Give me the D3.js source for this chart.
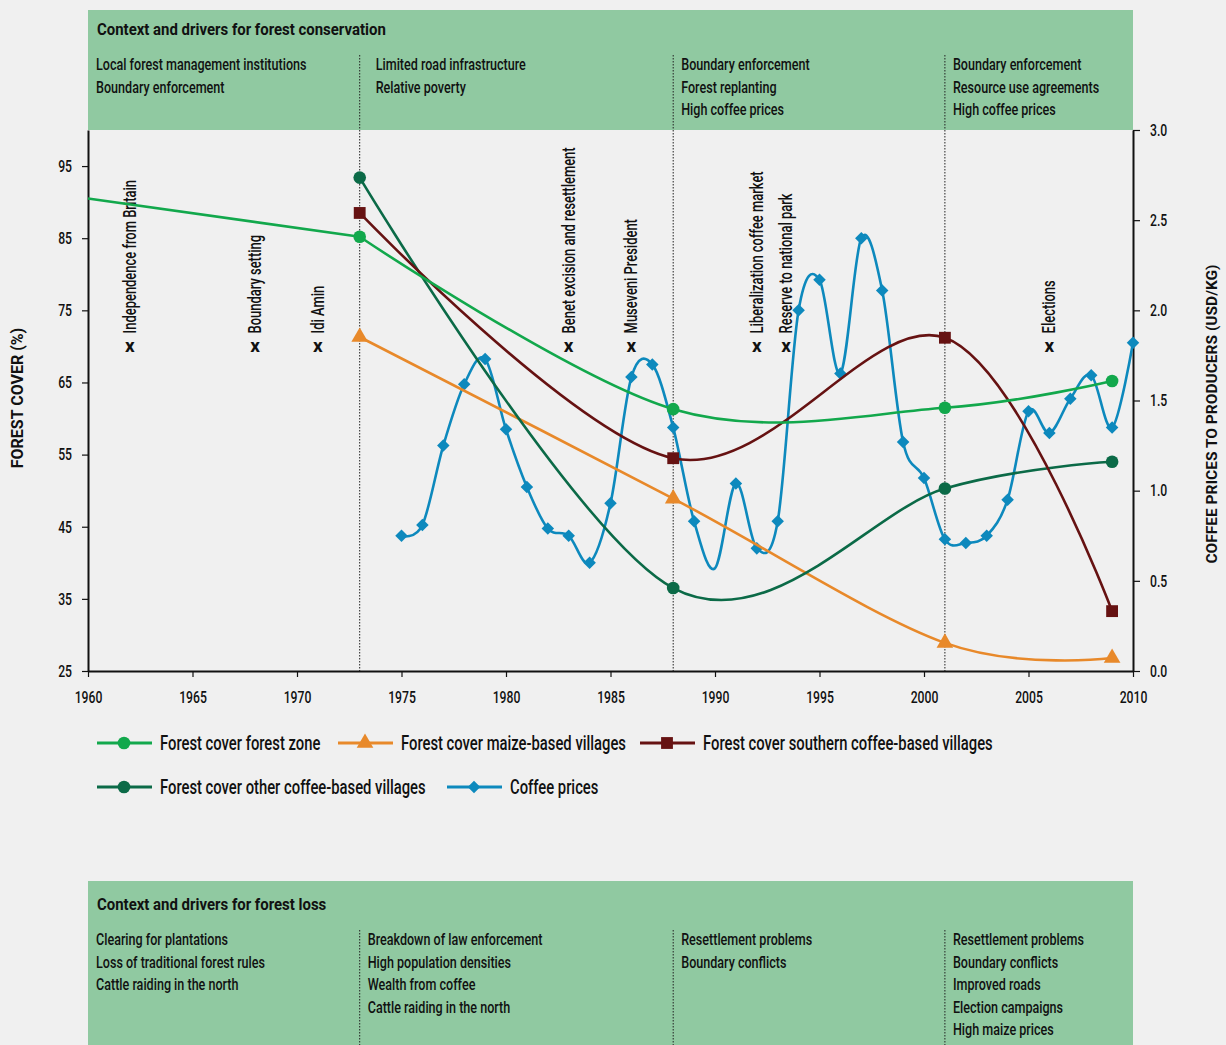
<!DOCTYPE html>
<html>
<head>
<meta charset="utf-8">
<script src="https://cdn.jsdelivr.net/npm/d3@7"></script>
<style>
  html, body { margin: 0; padding: 0; background: #f0f0f0; }
  svg { display: block; font-family: Roboto, "Noto Sans", sans-serif; }
</style>
</head>
<body>
<svg id="chart" width="1226" height="1045"></svg>
<script>
// ---- Data ----
const yearTicks = [1960, 1965, 1970, 1975, 1980, 1985, 1990, 1995, 2000, 2005, 2010];
const coverTicks = [25, 35, 45, 55, 65, 75, 85, 95];
const priceTicks = [0, 0.5, 1, 1.5, 2, 2.5, 3];

// forest cover (%) by survey year
const surveyYears = [1973, 1988, 2001, 2009];
const forestZone = [85.2, 61.3, 61.5, 65.2];
const maizeVillages = [71.3, 48.9, 28.9, 26.8];
const southernCoffeeVillages = [88.5, 54.5, 71.2, 33.3];
const otherCoffeeVillages = [93.4, 36.5, 50.3, 54.0];
// earlier estimate for the forest zone (no survey marker)
const forestZoneHistoricYears = [1960, 1973];
const forestZoneHistoric = [90.5, 85.2];

// coffee prices to producers (USD/kg)
const coffeeYears = [1975, 1976, 1977, 1978, 1979, 1980, 1981, 1982, 1983, 1984, 1985, 1986, 1987, 1988, 1989, 1990, 1991, 1992,
  1993, 1994, 1995, 1996, 1997, 1998, 1999, 2000, 2001, 2002, 2003, 2004, 2005, 2006, 2007, 2008, 2009, 2010];
const coffeePrices = [0.75, 0.81, 1.25, 1.59, 1.73, 1.34, 1.02, 0.79, 0.75, 0.60, 0.93, 1.63, 1.70, 1.35, 0.83, 0.57, 1.04, 0.68,
  0.83, 2.00, 2.17, 1.65, 2.40, 2.11, 1.27, 1.07, 0.73, 0.71, 0.75, 0.95, 1.44, 1.32, 1.51, 1.64, 1.35, 1.82];
const coffeeUnmarkedYears = [1990];

// historical events
const eventYears = [1962, 1968, 1971, 1983, 1986, 1992, 1993.4, 2006];
const eventLabels = ["Independence from Britain", "Boundary setting", "Idi Amin", "Benet excision and resettlement",
  "Museveni President", "Liberalization coffee market", "Reserve to national park", "Elections"];
const eventLevel = 70;

// period boundaries
const periodBreaks = [1973, 1988, 2001];
const periodStarts = [1960, 1973, 1988, 2001];
const conservationDrivers = [
  ["Local forest management institutions", "Boundary enforcement"],
  ["Limited road infrastructure", "Relative poverty"],
  ["Boundary enforcement", "Forest replanting", "High coffee prices"],
  ["Boundary enforcement", "Resource use agreements", "High coffee prices"]
];
const lossDrivers = [
  ["Clearing for plantations", "Loss of traditional forest rules", "Cattle raiding in the north"],
  ["Breakdown of law enforcement", "High population densities", "Wealth from coffee", "Cattle raiding in the north"],
  ["Resettlement problems", "Boundary conflicts"],
  ["Resettlement problems", "Boundary conflicts", "Improved roads", "Election campaigns", "High maize prices"]
];

// ---- Layout ----
const svg = d3.select("#chart");
const plotLeft = 88, plotRight = 1133, plotTop = 130, plotBottom = 671;
const x = d3.scaleLinear().domain([1960, 2010]).range([plotLeft, plotRight]);
const yL = d3.scaleLinear().domain([25, 100]).range([plotBottom, plotTop]);
const yR = d3.scaleLinear().domain([0, 3]).range([plotBottom, plotTop]);

const C = {
  zone: "#12a84c",
  maize: "#e8892a",
  southern: "#661212",
  other: "#0b6a47",
  coffee: "#0d89bd",
  box: "#90c9a1",
  ink: "#111"
};
// narrow lettering: glyphs are squeezed horizontally
const NARROW = 0.74;

function label(parent, px, py, str, opt = {}) {
  const rot = opt.rotate ? ` rotate(${opt.rotate})` : "";
  const sx = opt.sx == null ? NARROW : opt.sx;
  return parent.append("text")
    .attr("transform", `translate(${px},${py})${rot} scale(${sx},1)`)
    .attr("font-size", opt.size || 17)
    .attr("font-weight", opt.weight || 500)
    .attr("text-anchor", opt.anchor || "start")
    .attr("dy", opt.dy || null)
    .attr("fill", C.ink)
    .text(str);
}

// ---- Driver boxes ----
function driverBox(y0, y1, title, columns, textX, sepTop, pad) {
  const g = svg.append("g");
  g.append("rect").attr("x", plotLeft).attr("y", y0).attr("width", plotRight - plotLeft).attr("height", y1 - y0).attr("fill", C.box);
  label(g, plotLeft + 9, y0 + 25 + pad, title, { size: 17, weight: "bold", sx: 0.88 });
  columns.forEach((lines, i) => {
    lines.forEach((t, j) => label(g, textX[i], y0 + 60 + pad + j * 22.5, t, { size: 17 }));
  });
  periodBreaks.forEach(b => {
    g.append("line").attr("x1", x(b)).attr("x2", x(b)).attr("y1", sepTop).attr("y2", y1)
      .attr("stroke", "#222").attr("stroke-width", 1).attr("stroke-dasharray", "1.5,1.5");
  });
}
driverBox(10, plotTop, "Context and drivers for forest conservation", conservationDrivers,
  periodStarts.map((s, i) => x(s) + (i === 1 ? 16 : 8)), 55, 0);
driverBox(881, 1045, "Context and drivers for forest loss", lossDrivers,
  periodStarts.map((s, i) => x(s) + 8), 930, 4);

// dotted period lines through the plot
periodBreaks.forEach(b => {
  svg.append("line").attr("x1", x(b)).attr("x2", x(b)).attr("y1", plotTop).attr("y2", plotBottom)
    .attr("stroke", "#222").attr("stroke-width", 1).attr("stroke-dasharray", "1.5,1.5");
});

// ---- Axes ----
const axisStyle = g => {
  g.selectAll("path.domain").attr("stroke", "#111").attr("stroke-width", 2);
  g.selectAll(".tick line").attr("stroke", "#111").attr("stroke-width", 1.2);
  g.selectAll(".tick text").each(function () {
    const t = d3.select(this);
    const tx = +t.attr("x") || 0, ty = +t.attr("y") || 0;
    t.attr("x", null).attr("y", null)
      .attr("transform", `translate(${tx},${ty}) scale(${NARROW},1)`)
      .attr("fill", C.ink).attr("font-size", 16.5).attr("font-weight", 500).attr("font-family", "Roboto, sans-serif");
  });
};
svg.append("g").attr("transform", `translate(0,${plotBottom})`)
  .call(d3.axisBottom(x).tickValues(yearTicks).tickFormat(d3.format("d")).tickSize(6).tickSizeOuter(0).tickPadding(14))
  .call(axisStyle);
svg.append("g").attr("transform", `translate(${plotLeft},0)`)
  .call(d3.axisLeft(yL).tickValues(coverTicks).tickSize(6).tickSizeOuter(0).tickPadding(10))
  .call(axisStyle);
svg.append("g").attr("transform", `translate(${plotRight},0)`)
  .call(d3.axisRight(yR).tickValues(priceTicks).tickFormat(d3.format(".1f")).tickSize(7).tickSizeOuter(0).tickPadding(10))
  .call(axisStyle);

label(svg, 23, 398, "FOREST COVER (%)", { rotate: -90, anchor: "middle", size: 16, weight: "bold", sx: 1.0 });
label(svg, 1217, 414, "COFFEE PRICES TO PRODUCERS (USD/KG)", { rotate: -90, anchor: "middle", size: 15.5, weight: "bold", sx: 1.0 });

// ---- Events ----
eventYears.forEach((yr, i) => {
  svg.append("text").attr("x", x(yr)).attr("y", yL(eventLevel)).attr("dy", "0.32em").attr("text-anchor", "middle")
    .attr("font-size", 19).attr("font-weight", "bold").attr("fill", C.ink).text("x");
  label(svg, x(yr) + 6, yL(eventLevel) - 13, eventLabels[i], { rotate: -90, size: 17.5 });
});

// ---- Series ----
const smooth = d3.curveCardinal.tension(0);
const symbols = {
  circle: d3.symbol().type(d3.symbolCircle).size(125),
  triangle: d3.symbol().type(d3.symbolTriangle).size(120),
  square: d3.symbol().type(d3.symbolSquare).size(140),
  diamond: d3.symbol().type(d3.symbolDiamond2).size(100)
};

function series(xs, ys, yScale, color, sym, curve, skip) {
  const pts = xs.map((v, i) => [x(v), yScale(ys[i]), v]);
  svg.append("path").attr("d", d3.line().curve(curve)(pts.map(p => [p[0], p[1]])))
    .attr("fill", "none").attr("stroke", color).attr("stroke-width", 2.6);
  if (sym) {
    svg.append("g").selectAll("path").data(pts.filter(p => !(skip || []).includes(p[2]))).join("path")
      .attr("transform", p => `translate(${p[0]},${p[1]})`).attr("d", symbols[sym]).attr("fill", color);
  }
}

series(forestZoneHistoricYears, forestZoneHistoric, yL, C.zone, null, d3.curveLinear);
series(coffeeYears, coffeePrices, yR, C.coffee, "diamond", smooth, coffeeUnmarkedYears);
series(surveyYears, maizeVillages, yL, C.maize, "triangle", smooth);
series(surveyYears, otherCoffeeVillages, yL, C.other, "circle", smooth);
series(surveyYears, southernCoffeeVillages, yL, C.southern, "square", smooth);
series(surveyYears, forestZone, yL, C.zone, "circle", smooth);

// ---- Legend ----
const legendItems = [
  { label: "Forest cover forest zone", color: C.zone, sym: "circle", x: 97, y: 743 },
  { label: "Forest cover maize-based villages", color: C.maize, sym: "triangle", x: 338, y: 743 },
  { label: "Forest cover southern coffee-based villages", color: C.southern, sym: "square", x: 640, y: 743 },
  { label: "Forest cover other coffee-based villages", color: C.other, sym: "circle", x: 97, y: 787 },
  { label: "Coffee prices", color: C.coffee, sym: "diamond", x: 447, y: 787 }
];
legendItems.forEach(d => {
  const g = svg.append("g").attr("transform", `translate(${d.x},${d.y})`);
  g.append("line").attr("x1", 0).attr("x2", 55).attr("stroke", d.color).attr("stroke-width", 2.8);
  g.append("path").attr("transform", "translate(27,0)").attr("d", symbols[d.sym]()).attr("fill", d.color);
  label(g, 63, 0, d.label, { size: 20, dy: "0.35em" });
});
</script>
</body>
</html>
